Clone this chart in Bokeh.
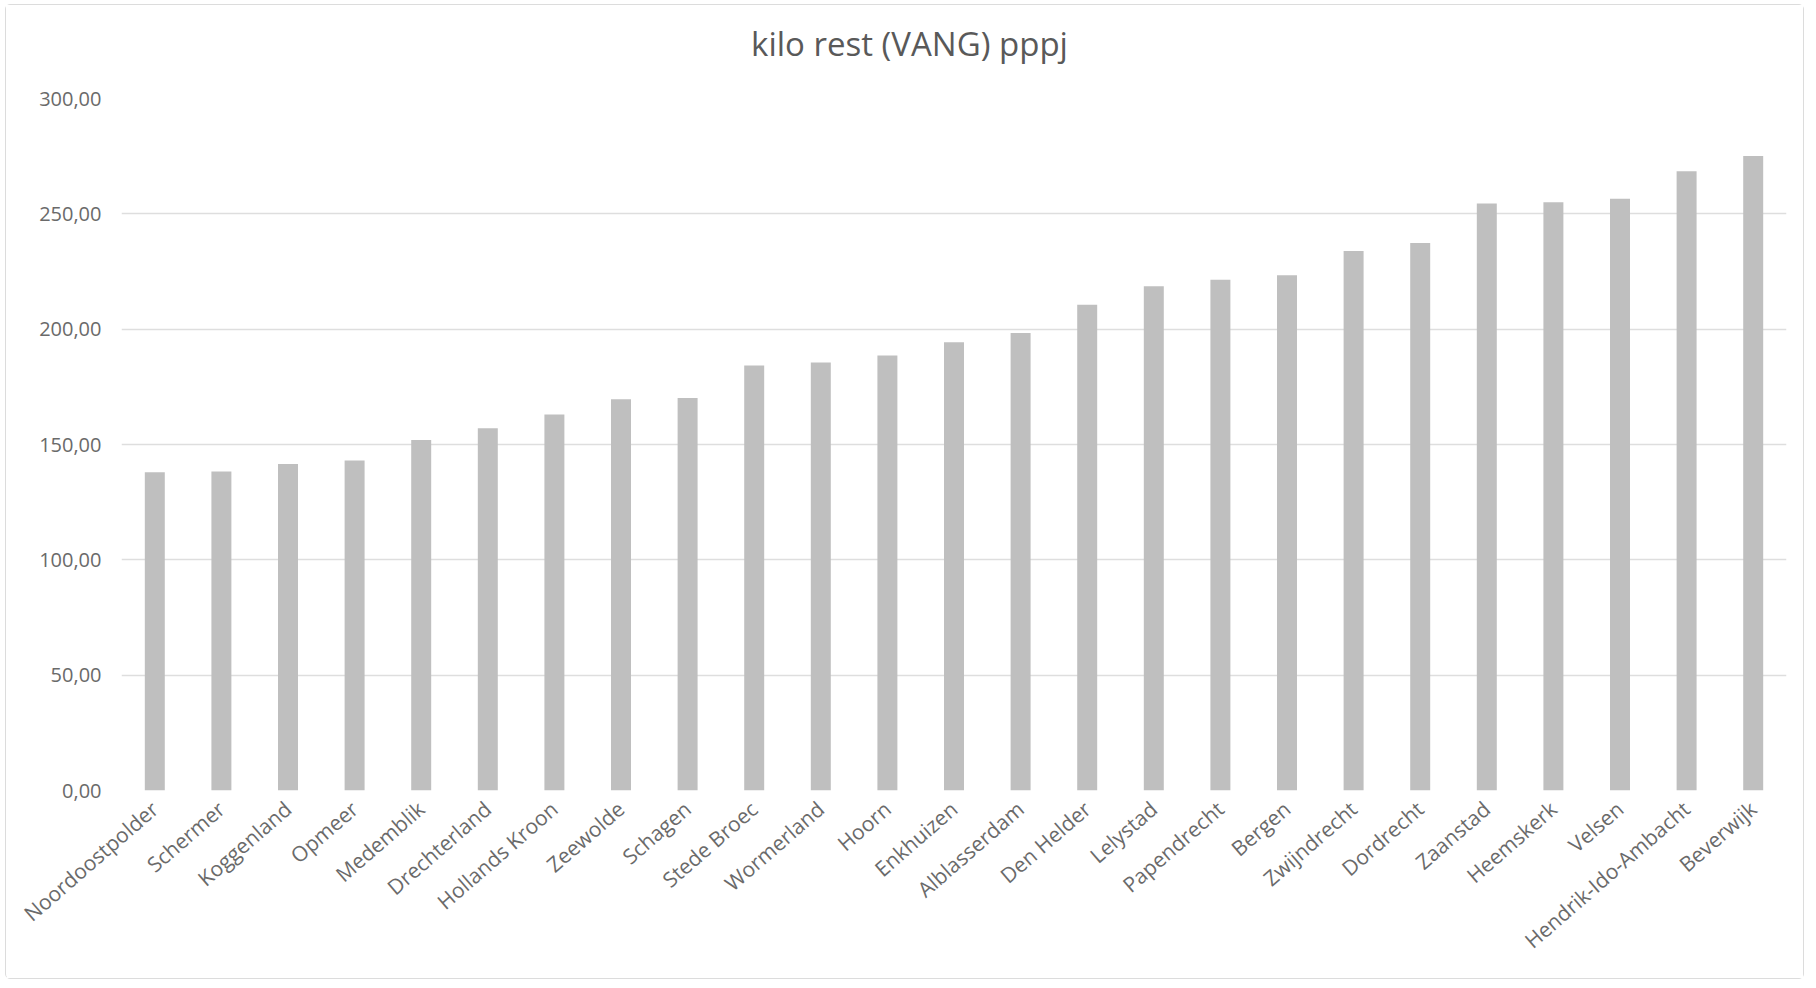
import math
from bokeh.plotting import figure
from bokeh.models import ColumnDataSource, FixedTicker, Div
from bokeh.layouts import column
from bokeh.embed import file_html
from bokeh.resources import INLINE

titel = "kilo rest (VANG) pppj"
gemeenten = ["Noordoostpolder", "Schermer", "Koggenland", "Opmeer", "Medemblik",
             "Drechterland", "Hollands Kroon", "Zeewolde", "Schagen", "Stede Broec",
             "Wormerland", "Hoorn", "Enkhuizen", "Alblasserdam", "Den Helder",
             "Lelystad", "Papendrecht", "Bergen", "Zwijndrecht", "Dordrecht",
             "Zaanstad", "Heemskerk", "Velsen", "Hendrik-Ido-Ambacht", "Beverwijk"]
kilo_rest = [138.0, 138.3, 141.6, 143.1, 152.0,
             157.0, 163.0, 169.6, 170.2, 184.2,
             185.6, 188.6, 194.3, 198.3, 210.6,
             218.6, 221.4, 223.4, 233.9, 237.4,
             254.5, 255.0, 256.5, 268.5, 275.1]
y_ticks = [0, 50, 100, 150, 200, 250, 300]
y_tick_labels = ["0,00", "50,00", "100,00", "150,00", "200,00", "250,00", "300,00"]

src = ColumnDataSource(data=dict(gemeente=gemeenten, waarde=kilo_rest))

kop = Div(text=titel, width=1797, height=78, margin=0,
          styles={"text-align": "center", "font-family": "Open Sans",
                  "font-size": "33px", "line-height": "78px",
                  "color": "#595959", "padding-left": "10px",
                  "background": "white"})

p = figure(width=1797, height=895, x_range=gemeenten, y_range=(0, 300),
           output_backend="svg", toolbar_location=None,
           min_border_left=115, min_border_right=17, min_border_bottom=188,
           min_border_top=15, margin=0)

p.vbar(x="gemeente", top="waarde", width=0.30, source=src,
       fill_color="#bfbfbf", line_color=None)

p.outline_line_color = None
p.background_fill_color = "white"
p.border_fill_color = "white"

p.xgrid.grid_line_color = None
p.ygrid.grid_line_color = "#dedede"
p.ygrid.grid_line_width = 1.5

p.yaxis.ticker = FixedTicker(ticks=y_ticks)
p.yaxis.major_label_overrides = {t: l for t, l in zip(y_ticks, y_tick_labels)}
for ax in (p.xaxis, p.yaxis):
    ax.axis_line_color = None
    ax.major_tick_line_color = None
    ax.minor_tick_line_color = None
    ax.major_label_text_font = "Open Sans"
    ax.major_label_text_color = "#6a6a6a"
p.yaxis.major_label_text_font_size = "20px"
p.xaxis.major_label_text_font_size = "21px"
p.yaxis.major_label_standoff = 14
p.xaxis.major_label_orientation = math.radians(41)
p.xaxis.major_label_standoff = 9

layout = column(kop, p, spacing=0, margin=(4, 0, 0, 5),
                styles={"border": "1px solid #dcdcdc", "border-radius": "5px",
                        "background": "white"})

open("out.html", "w").write(file_html(layout, INLINE))
